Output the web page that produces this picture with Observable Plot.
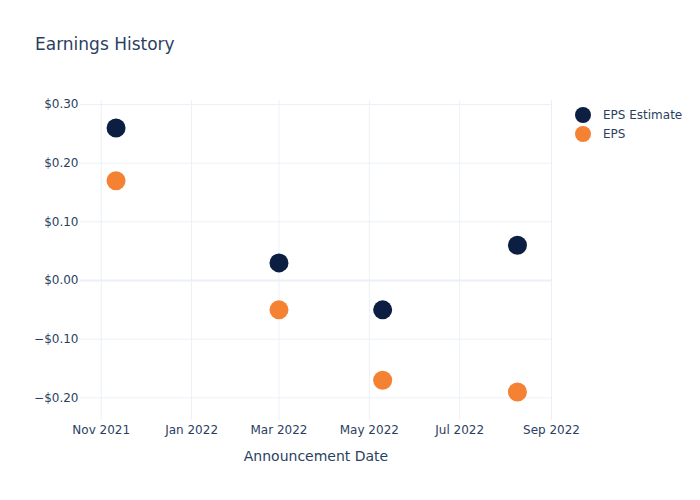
<!DOCTYPE html>
<html>
<head>
<meta charset="utf-8">
<script src="https://cdn.jsdelivr.net/npm/d3@7"></script>
<script src="https://cdn.jsdelivr.net/npm/@observablehq/plot@0.6"></script>
<style>
  html, body { margin: 0; padding: 0; background: #fff; }
  #wrap { position: relative; width: 700px; height: 500px; font-family: "DejaVu Sans", Verdana, sans-serif; color: #2a3f5f; }
  #title { position: absolute; left: 35px; top: 34px; font-size: 17px; }
  #xlabel { position: absolute; left: 80px; width: 472px; text-align: center; top: 448px; font-size: 14px; }
  #legend { position: absolute; left: 575px; top: 105px; font-size: 12px; }
  .li { display: flex; align-items: center; height: 19px; }
  .dot { width: 16px; height: 16px; border-radius: 50%; margin-right: 12px; }
  #chart { position: absolute; left: 0; top: 0; }
</style>
</head>
<body>
<div id="wrap">
  <div id="chart"></div>
  <div id="title">Earnings History</div>
  <div id="xlabel">Announcement Date</div>
  <div id="legend"></div>
</div>
<script>
const dates = ["2021-11-11", "2022-03-01", "2022-05-10", "2022-08-09"];
const epsEstimate = [0.26, 0.03, -0.05, 0.06];
const eps = [0.17, -0.05, -0.17, -0.19];
const seriesNames = ["EPS Estimate", "EPS"];
const seriesColors = ["#0c1f43", "#f58133"];
const xTickDates = ["2021-11-01", "2022-01-01", "2022-03-01", "2022-05-01", "2022-07-01", "2022-09-01"];
const yTickValues = [-0.2, -0.1, 0, 0.1, 0.2, 0.3];

const parse = d3.utcParse("%Y-%m-%d");
const rows = [];
dates.forEach((d, i) => {
  rows.push({date: parse(d), value: epsEstimate[i], series: seriesNames[0]});
  rows.push({date: parse(d), value: eps[i], series: seriesNames[1]});
});
const xTicks = xTickDates.map(parse);
const fmtMoney = v => (v < 0 ? "\u2212" : "") + "$" + Math.abs(v).toFixed(2);

const chart = Plot.plot({
  width: 700,
  height: 500,
  marginLeft: 80,
  marginRight: 148,
  marginTop: 100,
  marginBottom: 80,
  style: {fontFamily: "DejaVu Sans, Verdana, sans-serif", fontSize: "12px", color: "#2a3f5f", background: "#fff"},
  x: {type: "utc", domain: [parse("2021-10-18"), new Date(Date.UTC(2022, 8, 1, 16))], label: null},
  y: {domain: [-0.2386, 0.3068], label: null},
  color: {domain: seriesNames, range: seriesColors},
  marks: [
    Plot.gridX(xTicks, {stroke: "#ebf0f8", strokeOpacity: 1, strokeWidth: 1}),
    Plot.gridY(yTickValues.filter(v => v !== 0), {stroke: "#ebf0f8", strokeOpacity: 1, strokeWidth: 1}),
    Plot.ruleY([0], {stroke: "#ebf0f8", strokeWidth: 2}),
    Plot.axisX(xTicks, {tickSize: 0, tickPadding: 5, tickFormat: d3.utcFormat("%b %Y"), fontSize: 12, fill: "#2a3f5f", label: null}),
    Plot.axisY(yTickValues, {tickSize: 0, tickPadding: 2, tickFormat: fmtMoney, fontSize: 12, fill: "#2a3f5f", label: null}),
    Plot.dot(rows, {x: "date", y: "value", fill: "series", r: 9.5, stroke: "none"})
  ]
});
document.getElementById("chart").appendChild(chart);

const legend = document.getElementById("legend");
seriesNames.forEach((n, i) => {
  const row = document.createElement("div");
  row.className = "li";
  const dot = document.createElement("div");
  dot.className = "dot";
  dot.style.background = seriesColors[i];
  const lab = document.createElement("span");
  lab.textContent = n;
  row.appendChild(dot);
  row.appendChild(lab);
  legend.appendChild(row);
});
</script>
</body>
</html>
